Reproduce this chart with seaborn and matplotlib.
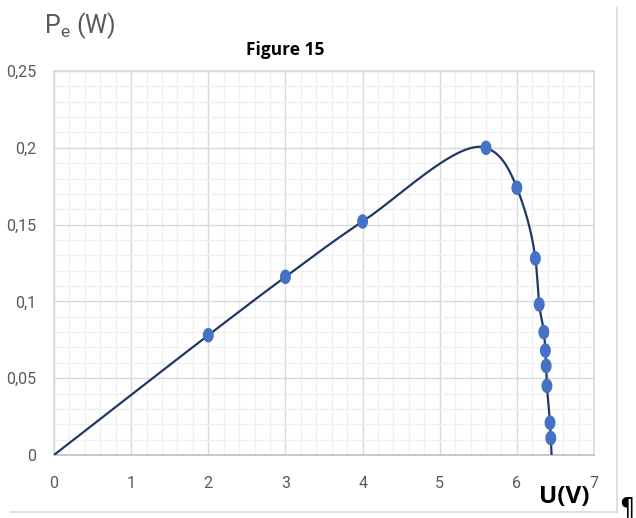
import numpy as np
import pandas as pd
import seaborn as sns
import matplotlib.pyplot as plt
from matplotlib.lines import Line2D
from matplotlib.ticker import MultipleLocator, FuncFormatter

# =========================
# DATA
# =========================
u_points = [2.0, 3.0, 4.0, 5.6, 6.0, 6.24, 6.29, 6.35, 6.37, 6.38, 6.39, 6.43, 6.44]
p_points = [0.078, 0.116, 0.152, 0.200, 0.174, 0.128, 0.098, 0.080, 0.068, 0.058, 0.045, 0.021, 0.011]

# the trend line starts at the origin and runs down to the axis
u_line = [0.0] + u_points + [6.45]
p_line = [0.0] + p_points + [0.0]

x_ticks = [0, 1, 2, 3, 4, 5, 6, 7]
y_ticks = [0, 0.05, 0.1, 0.15, 0.2, 0.25]

GREY = "#595959"
NAVY = "#203864"
BLUE = "#4472C4"


# =========================
# smooth line (centripetal Catmull-Rom, like Excel "smoothed line")
# =========================
def catmull_rom(xs, ys, n=40, alpha=0.5):
    P = np.column_stack([xs, ys]).astype(float)
    P = np.vstack([2 * P[0] - P[1], P, 2 * P[-1] - P[-2]])
    out = []
    for i in range(1, len(P) - 2):
        p0, p1, p2, p3 = P[i - 1], P[i], P[i + 1], P[i + 2]
        t0 = 0.0
        t1 = t0 + np.linalg.norm(p1 - p0) ** alpha
        t2 = t1 + np.linalg.norm(p2 - p1) ** alpha
        t3 = t2 + np.linalg.norm(p3 - p2) ** alpha
        t = np.linspace(t1, t2, n)[:, None]
        a1 = (t1 - t) / (t1 - t0) * p0 + (t - t0) / (t1 - t0) * p1
        a2 = (t2 - t) / (t2 - t1) * p1 + (t - t1) / (t2 - t1) * p2
        a3 = (t3 - t) / (t3 - t2) * p2 + (t - t2) / (t3 - t2) * p3
        b1 = (t2 - t) / (t2 - t0) * a1 + (t - t0) / (t2 - t0) * a2
        b2 = (t3 - t) / (t3 - t1) * a2 + (t - t1) / (t3 - t1) * a3
        c = (t2 - t) / (t2 - t1) * b1 + (t - t1) / (t2 - t1) * b2
        out.append(c)
    out = np.vstack(out)
    return out[:, 0], out[:, 1]


sx, sy = catmull_rom(u_line, p_line)
curve = pd.DataFrame({"U": sx, "P": sy})
pts = pd.DataFrame({"U": u_points, "P": p_points})

# =========================
# PLOT
# =========================
sns.set_theme(style="white")
plt.rcParams["font.family"] = ["Roboto", "DejaVu Sans"]

fig = plt.figure(figsize=(6.36, 5.18), dpi=100)
ax = fig.add_axes([54 / 636, 1 - 455 / 518, (594 - 54) / 636, (455 - 71) / 518])

sns.lineplot(data=curve, x="U", y="P", sort=False, color=NAVY, lw=1.6, ax=ax, zorder=3)

theta = np.linspace(0, 2 * np.pi, 40)
ellipse = list(zip(0.75 * np.cos(theta), np.sin(theta)))
sns.scatterplot(data=pts, x="U", y="P", marker=ellipse, s=110, color=BLUE,
                edgecolor="none", ax=ax, zorder=4)

ax.set_xlim(0, 7)
ax.set_ylim(0, 0.25)
ax.set_xticks(x_ticks)
ax.set_yticks(y_ticks)
ax.xaxis.set_minor_locator(MultipleLocator(0.2))
ax.yaxis.set_minor_locator(MultipleLocator(0.01))
ax.yaxis.set_major_formatter(FuncFormatter(lambda v, _: f"{v:g}".replace(".", ",")))
ax.grid(True, which="major", color="#D9D9D9", lw=1.0)
ax.grid(True, which="minor", color="#F0F0F0", lw=1.0)
ax.set_axisbelow(True)
ax.tick_params(axis="both", which="both", length=0, labelsize=11.5, colors=GREY)
ax.tick_params(axis="x", pad=15)
ax.tick_params(axis="y", pad=13)
for side in ["top", "right", "left"]:
    ax.spines[side].set_color("#D9D9D9")
ax.spines["bottom"].set_color("#BFBFBF")
ax.spines["bottom"].set_linewidth(1.2)
ax.set_xlabel("")
ax.set_ylabel("")

# texts
fig.text(285 / 636, 1 - 50 / 518, "Figure 15", ha="center", va="center",
         fontsize=12.5, fontweight="bold", family=["Open Sans", "DejaVu Sans"], color="black")
fig.text(44 / 636, 1 - 26 / 518, r"$\mathregular{P_e}$ (W)", ha="left", va="center",
         fontsize=18, color=GREY)
fig.text(564 / 636, 1 - 497 / 518, "U(V)", ha="center", va="center",
         fontsize=17.5, fontweight="bold", family=["Open Sans", "DejaVu Sans"], color="black")
fig.text(627 / 636, 1 - 507 / 518, "¶", ha="center", va="center",
         fontsize=17, family=["DejaVu Sans"], color="black")

# chart area border (right and bottom edges visible in the page)
fig.add_artist(Line2D([617 / 636, 617 / 636], [1 - 7 / 518, 1 - 512 / 518],
                      transform=fig.transFigure, color="#D9D9D9", lw=1.2))
fig.add_artist(Line2D([10 / 636, 617 / 636], [1 - 512 / 518, 1 - 512 / 518],
                      transform=fig.transFigure, color="#D9D9D9", lw=1.2))

fig.savefig("out.png", dpi=100)
